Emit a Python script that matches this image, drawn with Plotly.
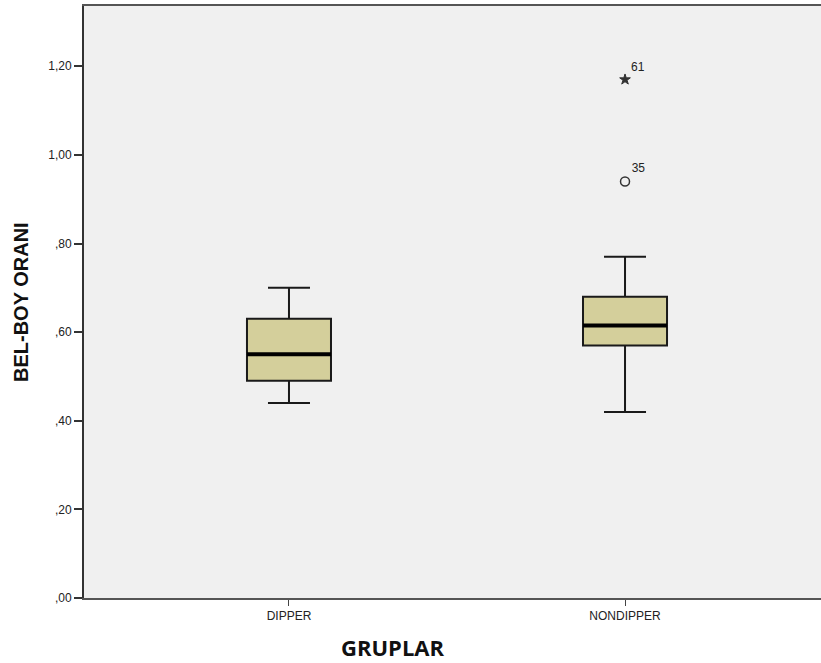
import plotly.graph_objects as go

categories = ["DIPPER", "NONDIPPER"]
cat_pos = [1, 2]
q1 = [0.49, 0.57]
median = [0.55, 0.615]
q3 = [0.63, 0.68]
lower = [0.44, 0.42]
upper = [0.70, 0.77]

outlier_cat = [2, 2]
outlier_vals = [1.17, 0.94]
outlier_ids = ["61", "35"]
outlier_symbols = ["star", "circle-open"]

y_ticks = [0.0, 0.2, 0.4, 0.6, 0.8, 1.0, 1.2]
y_ticktext = [",00", ",20", ",40", ",60", ",80", "1,00", "1,20"]

box_fill = "#D4CF9B"
font_family = "Liberation Sans, Arial, sans-serif"

FIG_W = 830
PLOT_W = FIG_W - 84

fig = go.Figure()

for i in range(len(categories)):
    fig.add_trace(go.Box(
        x=[cat_pos[i]],
        q1=[q1[i]], median=[median[i]], q3=[q3[i]],
        lowerfence=[lower[i]], upperfence=[upper[i]],
        width=0.25, whiskerwidth=0.5,
        fillcolor=box_fill,
        line=dict(color="#1a1a1a", width=2),
        boxpoints=False,
        showlegend=False,
        hoverinfo="skip",
    ))
    fig.add_trace(go.Scatter(
        x=[cat_pos[i] - 0.125, cat_pos[i] + 0.125],
        y=[median[i], median[i]],
        mode="lines",
        line=dict(color="#000000", width=4),
        showlegend=False,
        hoverinfo="skip",
    ))

for i in range(len(outlier_vals)):
    is_star = outlier_symbols[i] == "star"
    fig.add_trace(go.Scatter(
        x=[outlier_cat[i]], y=[outlier_vals[i]],
        mode="markers+text",
        marker=dict(symbol=outlier_symbols[i], size=8 if is_star else 9,
                    color="#333333", line=dict(color="#333333", width=1 if is_star else 1.5)),
        text=[outlier_ids[i]],
        textposition="top right",
        textfont=dict(family=font_family, size=12, color="#222222"),
        showlegend=False,
        hoverinfo="skip",
    ))

fig.update_layout(
    width=FIG_W, height=663,
    margin=dict(l=84, r=0, t=6, b=65),
    paper_bgcolor="white",
    plot_bgcolor="#F0F0F0",
    font=dict(family=font_family, size=12, color="#222222"),
    showlegend=False,
)

fig.update_xaxes(
    range=[0.39, 2.61],
    tickvals=cat_pos, ticktext=categories,
    ticks="outside", ticklen=6, tickwidth=1, tickcolor="#444444",
    tickfont=dict(family=font_family, size=12, color="#222222"),
    showline=True, linecolor="#555555", linewidth=2, mirror=True,
    showgrid=False, zeroline=False,
)
fig.update_yaxes(
    range=[0, 1.336],
    tickvals=y_ticks, ticktext=y_ticktext,
    ticks="outside", ticklen=8, tickwidth=2, tickcolor="#333333",
    tickfont=dict(family=font_family, size=12, color="#222222"),
    showline=True, linecolor="#333333", linewidth=2,
    showgrid=False, zeroline=False,
)

fig.add_annotation(
    text="<b>BEL-BOY ORANI</b>", textangle=-90,
    xref="paper", yref="paper", x=-(84 - 21) / PLOT_W, y=(598 - 302) / 592,
    xanchor="center", yanchor="middle", showarrow=False,
    font=dict(family=font_family, size=20, color="#111111"),
)
fig.add_annotation(
    text="<b>GRUPLAR</b>",
    xref="paper", yref="paper", x=(393 - 84) / PLOT_W, y=-(647 - 598) / 592,
    xanchor="center", yanchor="middle", showarrow=False,
    font=dict(family="Open Sans, sans-serif", size=22, color="#111111"),
)

fig.write_html("out.html", config={"displayModeBar": False})
with open("out.html", "r", encoding="utf-8") as f:
    html = f.read()
html = html.replace("<head>", "<head><style>html,body{margin:0;padding:0;overflow:hidden;}</style>", 1)
with open("out.html", "w", encoding="utf-8") as f:
    f.write(html)
